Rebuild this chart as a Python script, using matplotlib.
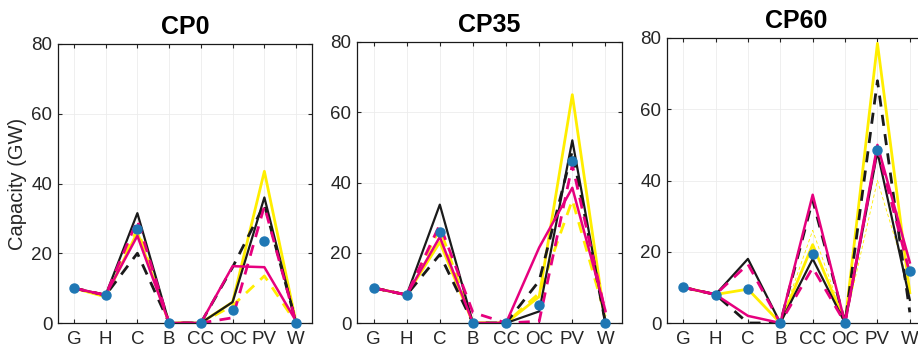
import numpy as np
import matplotlib
matplotlib.use("Agg")
import matplotlib.pyplot as plt

plt.rcParams['font.family'] = ['Liberation Sans', 'DejaVu Sans']

cats = ['G', 'H', 'C', 'B', 'CC', 'OC', 'PV', 'W']
titles = ['CP0', 'CP35', 'CP60']

# CP0
cp0_yellow = [10, 7.5, 26, 0, 0, 6, 43.5, 0]
cp0_yellow_d = [10, 8, 27, 0, 0, 5, 13.5, 0]
cp0_black = [10, 8, 31.5, 0, 0, 6, 36, 0]
cp0_black_d = [10, 8, 20, 0, 0, 16, 34, 0]
cp0_mag = [10, 8, 25, 0, 0, 16.3, 16, 0.5]
cp0_mag_d = [10, 8, 29.5, 0, 0, 1.5, 33.5, 0]
cp0_dots = [10, 8, 27, 0, 0, 3.7, 23.5, 0]

# CP35
cp35_yellow = [10, 8, 23, 0, 0, 7.5, 65, 0]
cp35_yellow_d = [10, 8, 27, 0, 0, 8.5, 35, 2]
cp35_black = [10, 8, 33.7, 0, 0, 3.3, 52, 0]
cp35_black_d = [10, 8, 19.5, 0, 0, 12, 49, 0]
cp35_mag = [10, 8, 24.5, 0, 0, 21.5, 38.5, 3.5]
cp35_mag_d = [10, 8, 28, 3, 0, 0.5, 45, 3]
cp35_dots = [10, 8, 26, 0, 0, 5, 46, 0]

# CP60
cp60_yellow = [10, 8, 9.5, 0, 22, 0, 78.5, 8.5]
cp60_yellow_d = [10, 8, 9.5, 0, 26, 0, 40, 10]
cp60_black = [10, 8, 18, 0, 18, 0, 48, 6.5]
cp60_black_d = [10, 8, 0, 0, 34.5, 0, 68, 3]
cp60_mag = [10, 8, 2, 0, 36, 0, 50, 17]
cp60_mag_d = [10, 8, 16.5, 0, 15.5, 0, 49, 14]
cp60_dots = [10, 8, 9.5, 0, 19.5, 0, 48.5, 14.5]

panels = [
    (cp0_yellow, cp0_yellow_d, cp0_black, cp0_black_d, cp0_mag, cp0_mag_d, cp0_dots),
    (cp35_yellow, cp35_yellow_d, cp35_black, cp35_black_d, cp35_mag, cp35_mag_d, cp35_dots),
    (cp60_yellow, cp60_yellow_d, cp60_black, cp60_black_d, cp60_mag, cp60_mag_d, cp60_dots),
]
# thin faint dashed yellow in the last panel
yellow_d_width = [2.0, 2.0, 0.6]

W, H = 918, 350
# left, right, top, bottom in pixels
boxes = [(58, 312, 44, 323), (357, 622, 42, 323), (667, 926, 38, 323)]

YELLOW = '#ffee00'
BLACK = '#1a1a1a'
MAG = '#e6007e'
BLUE = '#1f77b4'

fig = plt.figure(figsize=(W / 100, H / 100), dpi=100)
x = np.arange(1, len(cats) + 1)

for i, (box, data) in enumerate(zip(boxes, panels)):
    l, r, t, b = box
    ax = fig.add_axes([l / W, (H - b) / H, (r - l) / W, (b - t) / H])
    yel, yel_d, blk, blk_d, mag, mag_d, dots = data
    ax.plot(x, yel_d, color=YELLOW, lw=yellow_d_width[i], ls=(0, (4, 3)))
    ax.plot(x, yel, color=YELLOW, lw=2.0)
    ax.plot(x, blk_d, color=BLACK, lw=2.0, ls=(0, (4, 3)))
    ax.plot(x, blk, color=BLACK, lw=1.6)
    ax.plot(x, mag_d, color=MAG, lw=2.0, ls=(0, (4, 3)))
    ax.plot(x, mag, color=MAG, lw=1.8)
    ax.plot(x, dots, ls='none', marker='o', ms=6.5, color=BLUE, zorder=5, clip_on=False)

    ax.set_xlim(0.5, 8.5)
    ax.set_ylim(0, 80)
    ax.set_xticks(x)
    ax.set_xticklabels(cats)
    ax.set_yticks([0, 20, 40, 60, 80])
    ax.tick_params(direction='in', length=3, width=0.8, top=True, right=True,
                   labelsize=13.5, colors='#262626', pad=4)
    ax.tick_params(axis='x', pad=6)
    ax.grid(True, color='#ececec', lw=0.6)
    ax.set_axisbelow(True)
    for s in ax.spines.values():
        s.set_linewidth(0.9)
        s.set_color('#1a1a1a')
    ax.set_title(titles[i], fontsize=18, fontweight='bold', pad=7)
    if i == 0:
        ax.set_ylabel('Capacity (GW)', fontsize=14.5, color='#262626', labelpad=3)

fig.savefig('out.png', dpi=100)
